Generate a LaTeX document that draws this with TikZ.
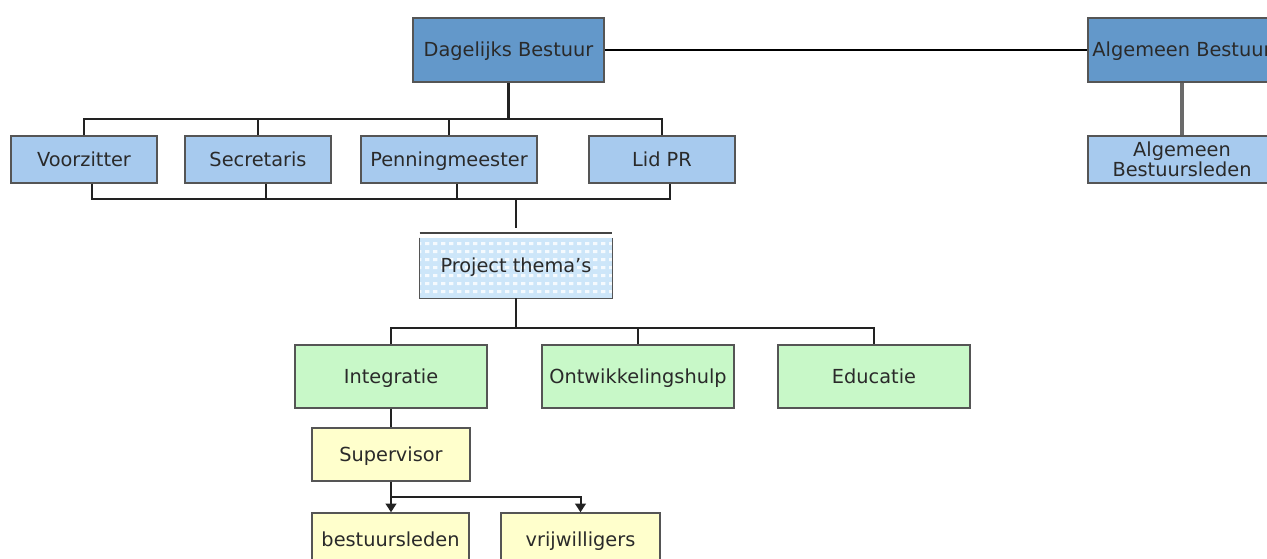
\documentclass[tikz,border=0pt]{standalone}
\usepackage{fontspec}
\setmainfont{DejaVu Sans}
\usetikzlibrary{arrows.meta,patterns}
\definecolor{dkblue}{HTML}{6398CA}
\definecolor{ltblue}{HTML}{A7CAEE}
\definecolor{ltgreen}{HTML}{C8F8C8}
\definecolor{ltyellow}{HTML}{FFFFCC}
\definecolor{ptblue}{HTML}{CDE6F9}
\definecolor{bordergray}{HTML}{555555}
\definecolor{txt}{HTML}{2A2A2A}
\definecolor{linegray}{HTML}{222222}
\definecolor{abgray}{HTML}{6A6A6A}
\pgfdeclarepatternformonly{ptdots}{\pgfqpoint{0pt}{0pt}}{\pgfqpoint{6pt}{6pt}}{\pgfqpoint{6pt}{6pt}}%
  {\pgfpathrectangle{\pgfqpoint{1pt}{1.5pt}}{\pgfqpoint{3.5pt}{2.5pt}}\pgfusepath{fill}}
\begin{document}
\begin{tikzpicture}[x=0.75pt,y=-0.75pt,
  box/.style={draw=bordergray, line width=1.1pt, inner sep=0pt, text=txt, align=center,
    font=\fontsize{14.5}{17}\selectfont},
  oneline/.style={text height=11pt, text depth=1pt},
  topbox/.style={box, oneline, fill=dkblue, minimum width=143.25pt, minimum height=48pt},
  rolebox/.style={box, fill=ltblue, minimum width=109.5pt, minimum height=35.25pt},
  themebox/.style={box, oneline, fill=ltgreen, minimum width=144pt, minimum height=47.25pt},
  yelbox/.style={box, oneline, fill=ltyellow, minimum height=39.75pt},
  bus/.style={draw=linegray, line width=1.5pt},
  trunk/.style={draw=linegray, line width=2.2pt},
  thinline/.style={draw=black, line width=1.1pt},
  arr/.style={bus, -{Triangle[width=8pt,length=6.5pt]}}
]
\useasboundingbox (0,0) rectangle (1267,559);
\fill[white] (0,0) rectangle (1267,559);

% top row
\node[topbox] (db) at (508.5,50) {Dagelijks Bestuur};
\node[topbox, minimum width=141pt] (ab) at (1182,50) {Algemeen Bestuur};

% second row
\node[rolebox, oneline] (vz)  at (84,159.5)  {Voorzitter};
\node[rolebox, oneline] (sec) at (258,159.5) {Secretaris};
\node[rolebox, oneline, minimum width=132pt] (pen) at (449,159.5) {Penningmeester};
\node[rolebox, oneline] (lid) at (662,159.5) {Lid PR};
\node[rolebox, minimum width=141pt, font=\fontsize{14.5}{11}\selectfont] (abl) at (1182,159.5) {Algemeen\\Bestuursleden};

% project themes
\node[inner sep=0pt, fill=ptblue, minimum width=144pt, minimum height=45pt, oneline,
      text=txt, font=\fontsize{14.5}{17}\selectfont] (pt) at (516,268) {};
\fill[pattern=ptdots, pattern color=white!80!ptblue] (pt.south west) rectangle (pt.north east);
\node[inner sep=0pt, oneline, text=txt, font=\fontsize{14.5}{17}\selectfont] (ptt) at (516,266) {Project thema's};
\draw[draw=bordergray, line width=1.1pt] (pt.north west) -- (pt.south west) -- (pt.south east) -- (pt.north east);
\draw[draw=bordergray!80!black, line width=1.5pt] ([yshift=3.75pt]pt.north west) -- ([yshift=3.75pt]pt.north east);

% third row
\node[themebox] (int) at (391,376.5) {Integratie};
\node[themebox] (ont) at (638,376.5) {Ontwikkelingshulp};
\node[themebox] (edu) at (874,376.5) {Educatie};

% supervisor
\node[yelbox, minimum width=118.5pt] (sup) at (391,454.5) {Supervisor};
\node[yelbox, minimum width=117.75pt] (bl) at (390.5,539.5) {bestuursleden};
\node[yelbox, minimum width=119.25pt] (vr) at (580.5,539.5) {vrijwilligers};

% connectors top
\draw[thinline] (db.east) -- (ab.west);
\coordinate (b1) at (508.5,119);
\draw[trunk] (db.south) -- (b1);
\draw[bus] (vz.north) |- (lid.north |- b1) -- (lid.north);
\draw[bus] (sec.north) -- (sec.north |- b1);
\draw[bus] (pen.north) -- (pen.north |- b1);
\draw[draw=abgray, line width=2.5pt] (ab.south) -- (abl.north);

% connectors to project themes
\coordinate (b2) at (516,199);
\draw[bus] ([xshift=6pt]vz.south) |- ([xshift=6pt]lid.south |- b2) -- ([xshift=6pt]lid.south);
\draw[bus] ([xshift=6pt]sec.south) -- ([xshift=6pt]sec.south |- b2);
\draw[bus] ([xshift=6pt]pen.south) -- ([xshift=6pt]pen.south |- b2);
\draw[trunk] (b2) -- ([yshift=7.5pt]pt.north);

% themes
\coordinate (b3) at (516,328);
\draw[trunk] (pt.south) -- (b3);
\draw[bus] (int.north) |- (edu.north |- b3) -- (edu.north);
\draw[bus] (ont.north) -- (ont.north |- b3);

% supervisor
\draw[bus] (int.south) -- (sup.north);
\coordinate (b4) at (391,497);
\draw[arr] (sup.south) -- (bl.north -| sup.south);
\draw[arr] (b4) -| (vr.north);
\end{tikzpicture}
\end{document}
